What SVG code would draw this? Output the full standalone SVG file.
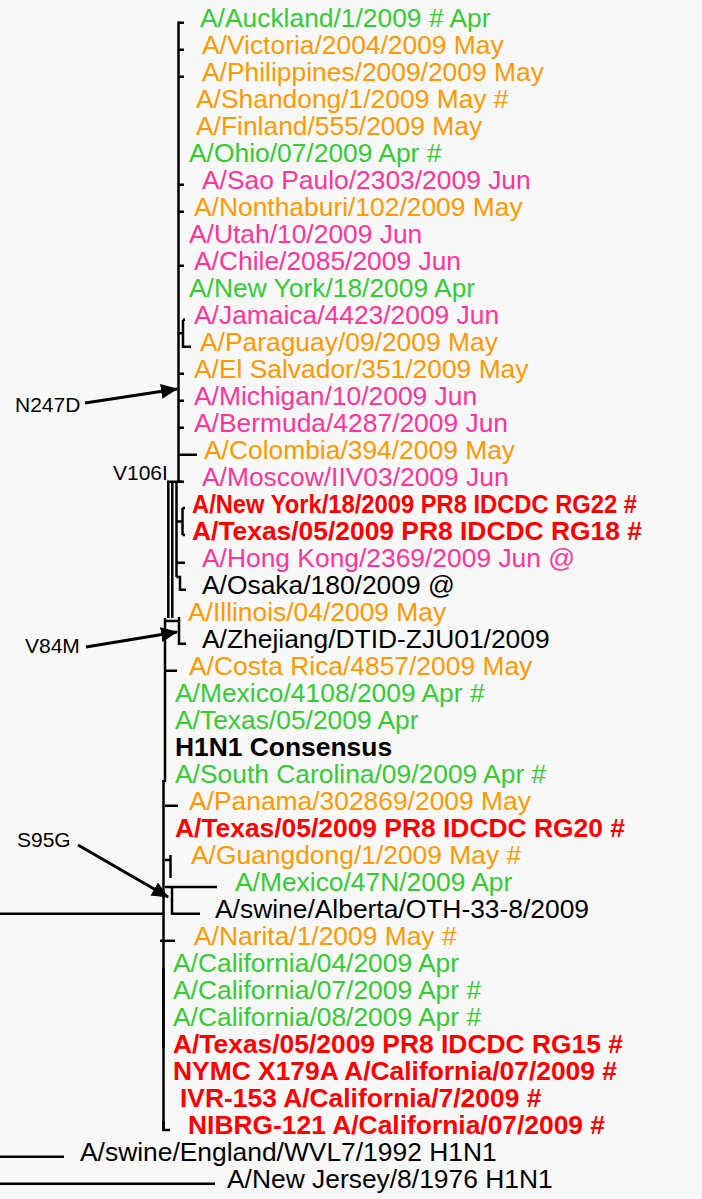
<svg xmlns="http://www.w3.org/2000/svg" width="702" height="1199" viewBox="0 0 702 1199">
<style>
text{font-family:"Liberation Sans",Arial,sans-serif;font-size:26.4px}
.g{fill:#33cc33}.o{fill:#ff9900}.p{fill:#ff3399}.r{fill:#ff0000;font-weight:bold}.k{fill:#000}.b{font-weight:bold}
.ann{font-size:21px;fill:#000}
.t{stroke:#000;stroke-width:2.5;fill:none}
.a{stroke:#000;stroke-width:3;fill:none}
</style>
<defs>
<marker id="ah" markerUnits="userSpaceOnUse" markerWidth="17" markerHeight="15" refX="16" refY="7.5" orient="auto"><path d="M0,0 L17,7.5 L0,15 Z" fill="#000"/></marker>
</defs>
<rect width="702" height="1199" fill="#f8f8f8"/>
<g id="connectors">
<line class="t" x1="178.5" y1="21.5" x2="178.5" y2="380" stroke-width="3"/>
<line class="t" x1="178.5" y1="380" x2="178.5" y2="483" stroke-width="4.5"/>
<path class="t" d="M178 22.8H184M178 49.8H184M178 76.8H184M178 184.8H184M178 211.8H184M178 265.8H184M178 373.8H184M178 400.8H184M178 427.8H184M178 454.8H197M178 481.8H184"/>
<path class="t" d="M183 319.8V346.8H191M178 333.3H183M183 319.8H185"/>
<path class="t" stroke-width="1.8" d="M182 481.8H168.3V618M172.3 483V618"/>
<line class="t" x1="176.5" y1="482" x2="176.5" y2="577" stroke-width="4"/>
<path class="t" d="M182.5 508V535M177 521.5H182.5M182.5 508H185M182.5 535H185"/>
<path class="t" d="M177 562.8H185M176.5 577H180V589.8H186"/>
<path class="t" d="M166 621H179M179 617V643.8H186"/>
<line class="t" x1="165" y1="618" x2="165" y2="782" stroke-width="4.5"/>
<line class="t" x1="163.5" y1="780" x2="163.5" y2="1131" stroke-width="3.5"/>
<line class="t" x1="163.5" y1="968" x2="163.5" y2="1048" stroke-width="4.5"/>
<path class="t" d="M166 670.8H177M165 805.8H178"/>
<path class="t" d="M170.5 855V878M165 860H170.5" stroke-width="3.5"/>
<path class="t" d="M165 887H217M172 887V913.8H200"/>
<path class="t" d="M0 913.8H163"/>
<path class="t" d="M160 940.8H175"/>
<path class="t" d="M163.5 1121V1130H170"/>
<path class="t" d="M0 1156.8H64M0 1183.8H215"/>
<line class="a" x1="85" y1="403" x2="177" y2="389" marker-end="url(#ah)"/>
<line class="a" x1="86" y1="647" x2="177" y2="632" marker-end="url(#ah)"/>
<line class="a" x1="78" y1="845" x2="168" y2="897" marker-end="url(#ah)"/>
</g>
<g id="annotations">
<text class="ann" x="15" y="412">N247D</text>
<text class="ann" x="113" y="480">V106I</text>
<text class="ann" x="25" y="653">V84M</text>
<text class="ann" x="17" y="847">S95G</text>
</g>
<g id="n1"><text class="g" x="200" y="27.3">A/Auckland/1/2009 # Apr</text></g>
<g id="n2"><text class="o" x="202" y="54.3">A/Victoria/2004/2009 May</text></g>
<g id="n3"><text class="o" x="202" y="81.3">A/Philippines/2009/2009 May</text></g>
<g id="n4"><text class="o" x="196" y="108.3">A/Shandong/1/2009 May #</text></g>
<g id="n5"><text class="o" x="196" y="135.3">A/Finland/555/2009 May</text></g>
<g id="n6"><text class="g" x="189" y="162.3">A/Ohio/07/2009 Apr #</text></g>
<g id="n7"><text class="p" x="202" y="189.3">A/Sao Paulo/2303/2009 Jun</text></g>
<g id="n8"><text class="o" x="194" y="216.3">A/Nonthaburi/102/2009 May</text></g>
<g id="n9"><text class="p" x="189" y="243.3">A/Utah/10/2009 Jun</text></g>
<g id="n10"><text class="p" x="194" y="270.3">A/Chile/2085/2009 Jun</text></g>
<g id="n11"><text class="g" x="189" y="297.3">A/New York/18/2009 Apr</text></g>
<g id="n12"><text class="p" x="194" y="324.3">A/Jamaica/4423/2009 Jun</text></g>
<g id="n13"><text class="o" x="200" y="351.3">A/Paraguay/09/2009 May</text></g>
<g id="n14"><text class="o" x="194" y="378.3">A/El Salvador/351/2009 May</text></g>
<g id="n15"><text class="p" x="194" y="405.3">A/Michigan/10/2009 Jun</text></g>
<g id="n16"><text class="p" x="194" y="432.3">A/Bermuda/4287/2009 Jun</text></g>
<g id="n17"><text class="o" x="204" y="459.3">A/Colombia/394/2009 May</text></g>
<g id="n18"><text class="p" x="202" y="486.3">A/Moscow/IIV03/2009 Jun</text></g>
<g id="n19"><text class="r" x="192" y="513.3" textLength="445" lengthAdjust="spacingAndGlyphs">A/New York/18/2009 PR8 IDCDC RG22 #</text></g>
<g id="n20"><text class="r" x="192" y="540.3">A/Texas/05/2009 PR8 IDCDC RG18 #</text></g>
<g id="n21"><text class="p" x="202" y="567.3">A/Hong Kong/2369/2009 Jun @</text></g>
<g id="n22"><text class="k" x="202" y="594.3">A/Osaka/180/2009 @</text></g>
<g id="n23"><text class="o" x="188" y="621.3">A/Illinois/04/2009 May</text></g>
<g id="n24"><text class="k" x="202" y="648.3">A/Zhejiang/DTID-ZJU01/2009</text></g>
<g id="n25"><text class="o" x="189" y="675.3">A/Costa Rica/4857/2009 May</text></g>
<g id="n26"><text class="g" x="175" y="702.3">A/Mexico/4108/2009 Apr #</text></g>
<g id="n27"><text class="g" x="175" y="729.3">A/Texas/05/2009 Apr</text></g>
<g id="n28"><text class="k b" x="175" y="756.3">H1N1 Consensus</text></g>
<g id="n29"><text class="g" x="175" y="783.3">A/South Carolina/09/2009 Apr #</text></g>
<g id="n30"><text class="o" x="189" y="810.3">A/Panama/302869/2009 May</text></g>
<g id="n31"><text class="r" x="175" y="837.3">A/Texas/05/2009 PR8 IDCDC RG20 #</text></g>
<g id="n32"><text class="o" x="191" y="864.3">A/Guangdong/1/2009 May #</text></g>
<g id="n33"><text class="g" x="235" y="891.3">A/Mexico/47N/2009 Apr</text></g>
<g id="n34"><text class="k" x="215" y="918.3">A/swine/Alberta/OTH-33-8/2009</text></g>
<g id="n35"><text class="o" x="194" y="945.3">A/Narita/1/2009 May #</text></g>
<g id="n36"><text class="g" x="173" y="972.3">A/California/04/2009 Apr</text></g>
<g id="n37"><text class="g" x="173" y="999.3">A/California/07/2009 Apr #</text></g>
<g id="n38"><text class="g" x="173" y="1026.3">A/California/08/2009 Apr #</text></g>
<g id="n39"><text class="r" x="173" y="1053.3">A/Texas/05/2009 PR8 IDCDC RG15 #</text></g>
<g id="n40"><text class="r" x="173" y="1080.3">NYMC X179A A/California/07/2009 #</text></g>
<g id="n41"><text class="r" x="180" y="1107.3">IVR-153 A/California/7/2009 #</text></g>
<g id="n42"><text class="r" x="188" y="1134.3">NIBRG-121 A/California/07/2009 #</text></g>
<g id="n43"><text class="k" x="80" y="1161.3">A/swine/England/WVL7/1992 H1N1</text></g>
<g id="n44"><text class="k" x="227" y="1188.3">A/New Jersey/8/1976 H1N1</text></g>
</svg>
